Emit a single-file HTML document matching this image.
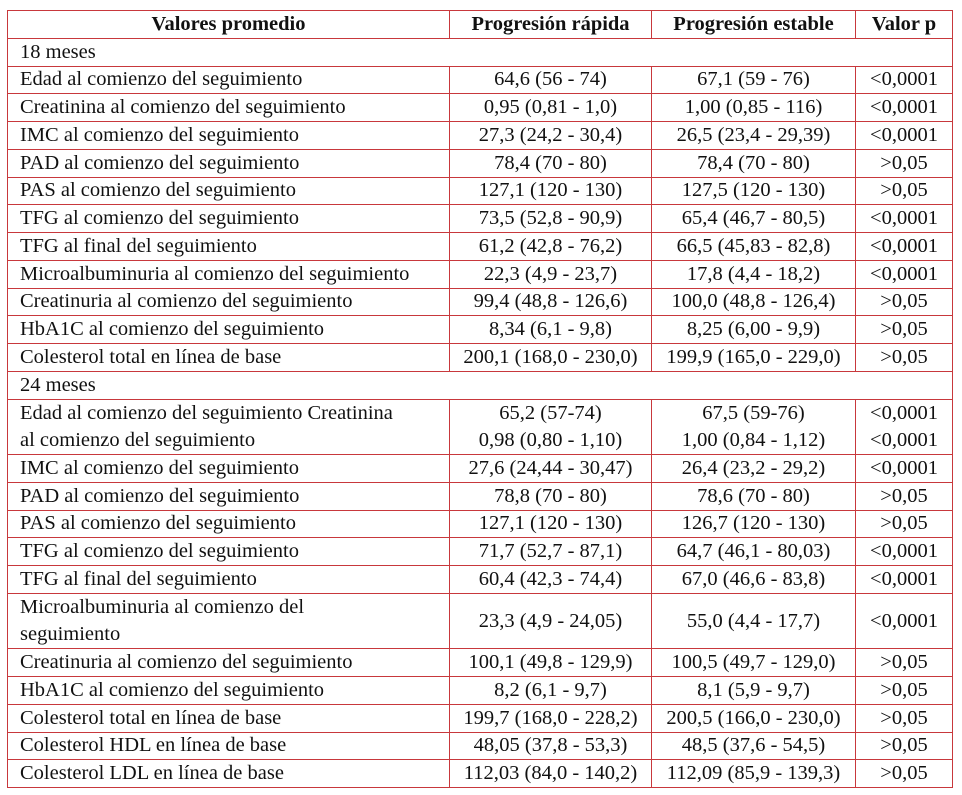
<!DOCTYPE html>
<html><head><meta charset="utf-8"><style>
html,body{margin:0;padding:0;background:#fff;width:962px;height:795px;overflow:hidden}
table{position:absolute;left:7px;top:10px;border-collapse:collapse;table-layout:fixed;font-family:"Liberation Serif",serif;font-size:20.5px;color:#111}
td,th{border:1px solid #c8383c;padding:0 0 0 12px;height:26.75px;line-height:25px;white-space:nowrap;overflow:hidden;box-sizing:border-box}
th{text-align:center;font-weight:bold;padding:0}
td.c{text-align:center;padding:0}
tr.d td{height:54.5px;line-height:27px}
tr{height:27.75px}
tr.d{height:55.5px}
</style></head><body>
<table>
<colgroup><col style="width:442px"><col style="width:202px"><col style="width:204px"><col style="width:97px"></colgroup>
<tr><th>Valores promedio</th><th>Progresión rápida</th><th>Progresión estable</th><th>Valor p</th></tr>
<tr><td colspan="4">18 meses</td></tr>
<tr><td>Edad al comienzo del seguimiento</td><td class="c">64,6 (56 - 74)</td><td class="c">67,1 (59 - 76)</td><td class="c">&lt;0,0001</td></tr>
<tr><td>Creatinina al comienzo del seguimiento</td><td class="c">0,95 (0,81 - 1,0)</td><td class="c">1,00 (0,85 - 116)</td><td class="c">&lt;0,0001</td></tr>
<tr><td>IMC al comienzo del seguimiento</td><td class="c">27,3 (24,2 - 30,4)</td><td class="c">26,5 (23,4 - 29,39)</td><td class="c">&lt;0,0001</td></tr>
<tr><td>PAD al comienzo del seguimiento</td><td class="c">78,4 (70 - 80)</td><td class="c">78,4 (70 - 80)</td><td class="c">&gt;0,05</td></tr>
<tr><td>PAS al comienzo del seguimiento</td><td class="c">127,1 (120 - 130)</td><td class="c">127,5 (120 - 130)</td><td class="c">&gt;0,05</td></tr>
<tr><td>TFG al comienzo del seguimiento</td><td class="c">73,5 (52,8 - 90,9)</td><td class="c">65,4 (46,7 - 80,5)</td><td class="c">&lt;0,0001</td></tr>
<tr><td>TFG al final del seguimiento</td><td class="c">61,2 (42,8 - 76,2)</td><td class="c">66,5 (45,83 - 82,8)</td><td class="c">&lt;0,0001</td></tr>
<tr><td>Microalbuminuria al comienzo del seguimiento</td><td class="c">22,3 (4,9 - 23,7)</td><td class="c">17,8 (4,4 - 18,2)</td><td class="c">&lt;0,0001</td></tr>
<tr><td>Creatinuria al comienzo del seguimiento</td><td class="c">99,4 (48,8 - 126,6)</td><td class="c">100,0 (48,8 - 126,4)</td><td class="c">&gt;0,05</td></tr>
<tr><td>HbA1C al comienzo del seguimiento</td><td class="c">8,34 (6,1 - 9,8)</td><td class="c">8,25 (6,00 - 9,9)</td><td class="c">&gt;0,05</td></tr>
<tr><td>Colesterol total en línea de base</td><td class="c">200,1 (168,0 - 230,0)</td><td class="c">199,9 (165,0 - 229,0)</td><td class="c">&gt;0,05</td></tr>
<tr><td colspan="4">24 meses</td></tr>
<tr class="d"><td>Edad al comienzo del seguimiento Creatinina<br>al comienzo del seguimiento</td><td class="c">65,2 (57-74)<br>0,98 (0,80 - 1,10)</td><td class="c">67,5 (59-76)<br>1,00 (0,84 - 1,12)</td><td class="c">&lt;0,0001<br>&lt;0,0001</td></tr>
<tr><td>IMC al comienzo del seguimiento</td><td class="c">27,6 (24,44 - 30,47)</td><td class="c">26,4 (23,2 - 29,2)</td><td class="c">&lt;0,0001</td></tr>
<tr><td>PAD al comienzo del seguimiento</td><td class="c">78,8 (70 - 80)</td><td class="c">78,6 (70 - 80)</td><td class="c">&gt;0,05</td></tr>
<tr><td>PAS al comienzo del seguimiento</td><td class="c">127,1 (120 - 130)</td><td class="c">126,7 (120 - 130)</td><td class="c">&gt;0,05</td></tr>
<tr><td>TFG al comienzo del seguimiento</td><td class="c">71,7 (52,7 - 87,1)</td><td class="c">64,7 (46,1 - 80,03)</td><td class="c">&lt;0,0001</td></tr>
<tr><td>TFG al final del seguimiento</td><td class="c">60,4 (42,3 - 74,4)</td><td class="c">67,0 (46,6 - 83,8)</td><td class="c">&lt;0,0001</td></tr>
<tr class="d"><td>Microalbuminuria al comienzo del<br>seguimiento</td><td class="c">23,3 (4,9 - 24,05)</td><td class="c">55,0 (4,4 - 17,7)</td><td class="c">&lt;0,0001</td></tr>
<tr><td>Creatinuria al comienzo del seguimiento</td><td class="c">100,1 (49,8 - 129,9)</td><td class="c">100,5 (49,7 - 129,0)</td><td class="c">&gt;0,05</td></tr>
<tr><td>HbA1C al comienzo del seguimiento</td><td class="c">8,2 (6,1 - 9,7)</td><td class="c">8,1 (5,9 - 9,7)</td><td class="c">&gt;0,05</td></tr>
<tr><td>Colesterol total en línea de base</td><td class="c">199,7 (168,0 - 228,2)</td><td class="c">200,5 (166,0 - 230,0)</td><td class="c">&gt;0,05</td></tr>
<tr><td>Colesterol HDL en línea de base</td><td class="c">48,05 (37,8 - 53,3)</td><td class="c">48,5 (37,6 - 54,5)</td><td class="c">&gt;0,05</td></tr>
<tr><td>Colesterol LDL en línea de base</td><td class="c">112,03 (84,0 - 140,2)</td><td class="c">112,09 (85,9 - 139,3)</td><td class="c">&gt;0,05</td></tr>
</table>
</body></html>
